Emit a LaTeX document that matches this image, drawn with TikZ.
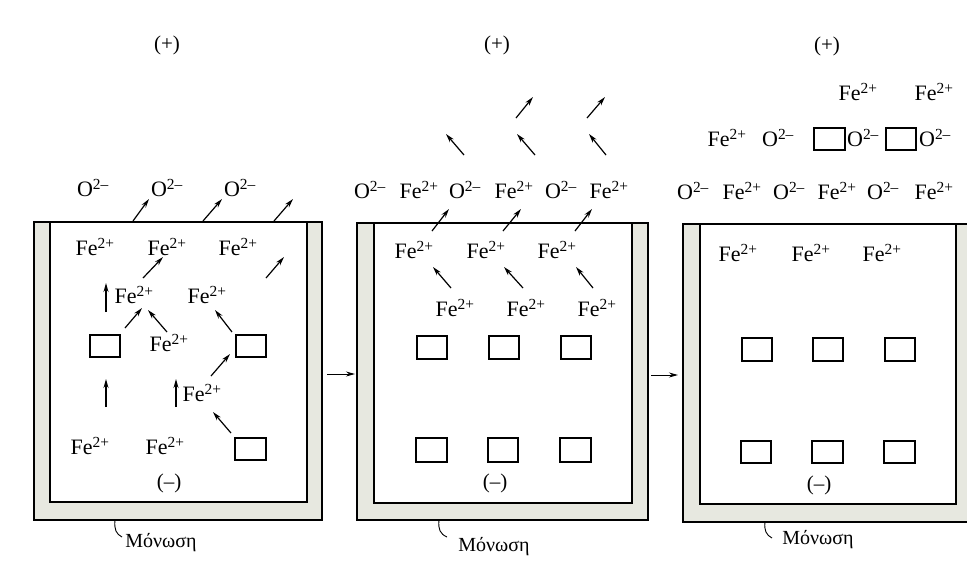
\documentclass[tikz,border=0pt]{standalone}
\usepackage{fontspec}
\setmainfont{Liberation Serif}
\usetikzlibrary{arrows.meta}
\newcommand{\FeIon}{Fe\textsuperscript{2+}}
\newcommand{\OIon}{O\textsuperscript{2\textendash}}
\definecolor{insulc}{RGB}{231,232,224}
\tikzset{
  ion/.style={inner sep=0pt, font=\fontsize{22}{25}\selectfont},
  lbl/.style={inner sep=0pt, font=\fontsize{21}{24}\selectfont},
  monlbl/.style={inner sep=0pt, font=\fontsize{20}{23}\selectfont},
  mv/.style={line width=1.2pt, -{Stealth[length=9pt,width=5pt]}},
  vac/.style={line width=1.7pt},
  outerwall/.style={line width=1.8pt},
  innerwall/.style={line width=1.6pt},
  leader/.style={line width=0.9pt},
}
\begin{document}
\begin{tikzpicture}[x=1pt,y=-1pt]
\useasboundingbox (0,0) rectangle (967,566);
\clip (0,0) rectangle (967,566);
% ---------- containers ----------
% panel 1
\fill[insulc] (34,222) rectangle (322,520);
\fill[white] (50,222) rectangle (307,502);
\draw[outerwall] (34,222) rectangle (322,520);
\draw[innerwall] (50,222) rectangle (307,502);
% panel 2
\fill[insulc] (357,223) rectangle (648,520);
\fill[white] (374,223) rectangle (632,503);
\draw[outerwall] (357,223) rectangle (648,520);
\draw[innerwall] (374,223) rectangle (632,503);
% panel 3
\fill[insulc] (683,224) rectangle (978,522);
\fill[white] (700,224) rectangle (956,504);
\draw[outerwall] (683,224) rectangle (978,522);
\draw[innerwall] (700,224) rectangle (956,504);

% ---------- panel 1 ----------
\node[lbl] (plus1) at (167,45) {(+)};
\node[ion] (p1o1) at (93,188) {\OIon};
\node[ion] (p1o2) at (167,188) {\OIon};
\node[ion] (p1o3) at (240,188) {\OIon};
\node[ion] (p1f1) at (95,247) {\FeIon};
\node[ion] (p1f2) at (167,247) {\FeIon};
\node[ion] (p1f3) at (238,247) {\FeIon};
\node[ion] (p1f4) at (134,295) {\FeIon};
\node[ion] (p1f5) at (207,295) {\FeIon};
\node[ion] (p1f6) at (169,343) {\FeIon};
\node[ion] (p1f7) at (202,393) {\FeIon};
\node[ion] (p1f8) at (90,446) {\FeIon};
\node[ion] (p1f9) at (165,446) {\FeIon};
\node[lbl] (minus1) at (169,483) {(\textendash)};
\node[monlbl] (mon1) at (161,543) {Μόνωση};
\draw[vac] (90,335) rectangle (120,357);
\draw[vac] (236,335) rectangle (266,357);
\draw[vac] (235,438) rectangle (266,460);
\draw[mv] (133,221) -- (149,199);
\draw[mv] (203,221) -- (222,199);
\draw[mv] (274,221) -- (293,199);
\draw[mv] (143,278) -- (163,257);
\draw[mv] (266,278) -- (284,257);
\draw[mv] (106,312) -- (106,283);
\draw[mv] (125,328) -- (142,308);
\draw[mv] (167,332) -- (148,310);
\draw[mv] (232,332) -- (215,310);
\draw[mv] (106,407) -- (106,379);
\draw[mv] (176,407) -- (176,379);
\draw[mv] (211,376) -- (230,354);
\draw[mv] (231,433) -- (213,412);
\draw[leader] (115,520) .. controls (114,529) and (116,534) .. (122,537);
\draw[mv, line width=1pt] (327,374) -- (355,374);

% ---------- panel 2 ----------
\node[lbl] (plus2) at (497,45) {(+)};
\node[ion] (p2a1) at (370,190) {\OIon};
\node[ion] (p2a2) at (419,190) {\FeIon};
\node[ion] (p2a3) at (465,190) {\OIon};
\node[ion] (p2a4) at (514,190) {\FeIon};
\node[ion] (p2a5) at (561,190) {\OIon};
\node[ion] (p2a6) at (609,190) {\FeIon};
\node[ion] (p2b1) at (414,250) {\FeIon};
\node[ion] (p2b2) at (486,250) {\FeIon};
\node[ion] (p2b3) at (557,250) {\FeIon};
\node[ion] (p2c1) at (455,308) {\FeIon};
\node[ion] (p2c2) at (526,308) {\FeIon};
\node[ion] (p2c3) at (597,308) {\FeIon};
\node[lbl] (minus2) at (495,483) {(\textendash)};
\node[monlbl] (mon2) at (494,547) {Μόνωση};
\draw[vac] (417,336) rectangle (447,359);
\draw[vac] (489,336) rectangle (519,359);
\draw[vac] (561,336) rectangle (591,359);
\draw[vac] (416,438) rectangle (447,462);
\draw[vac] (488,438) rectangle (518,462);
\draw[vac] (560,438) rectangle (591,462);
\draw[mv] (516,118) -- (533,97);
\draw[mv] (587,118) -- (605,97);
\draw[mv] (464,155) -- (446,134);
\draw[mv] (535,155) -- (517,134);
\draw[mv] (606,155) -- (589,134);
\draw[mv] (432,231) -- (449,209);
\draw[mv] (503,231) -- (521,209);
\draw[mv] (575,231) -- (592,209);
\draw[mv] (451,288) -- (433,267);
\draw[mv] (523,288) -- (504,267);
\draw[mv] (593,288) -- (576,267);
\draw[leader] (439,520) .. controls (438,529) and (440,534) .. (447,537);
\draw[mv, line width=1pt] (651,375) -- (678,375);

% ---------- panel 3 ----------
\node[lbl] (plus3) at (827,46) {(+)};
\node[ion] (p3a1) at (858,92) {\FeIon};
\node[ion] (p3a2) at (934,92) {\FeIon};
\node[ion] (p3b1) at (727,138) {\FeIon};
\node[ion] (p3b2) at (778,138) {\OIon};
\node[ion] (p3b3) at (863,138) {\OIon};
\node[ion] (p3b4) at (935,138) {\OIon};
\draw[vac] (814,128) rectangle (845,150);
\draw[vac] (886,128) rectangle (916,150);
\node[ion] (p3c1) at (693,191) {\OIon};
\node[ion] (p3c2) at (742,191) {\FeIon};
\node[ion] (p3c3) at (789,191) {\OIon};
\node[ion] (p3c4) at (837,191) {\FeIon};
\node[ion] (p3c5) at (883,191) {\OIon};
\node[ion] (p3c6) at (934,191) {\FeIon};
\node[ion] (p3d1) at (738,253) {\FeIon};
\node[ion] (p3d2) at (811,253) {\FeIon};
\node[ion] (p3d3) at (882,253) {\FeIon};
\node[lbl] (minus3) at (819,485) {(\textendash)};
\node[monlbl] (mon3) at (818,540) {Μόνωση};
\draw[vac] (742,338) rectangle (772,361);
\draw[vac] (813,338) rectangle (843,361);
\draw[vac] (885,338) rectangle (915,361);
\draw[vac] (741,441) rectangle (771,463);
\draw[vac] (812,441) rectangle (843,463);
\draw[vac] (884,441) rectangle (915,463);
\draw[leader] (765,522) .. controls (764,530) and (766,535) .. (772,538);
\end{tikzpicture}
\end{document}
